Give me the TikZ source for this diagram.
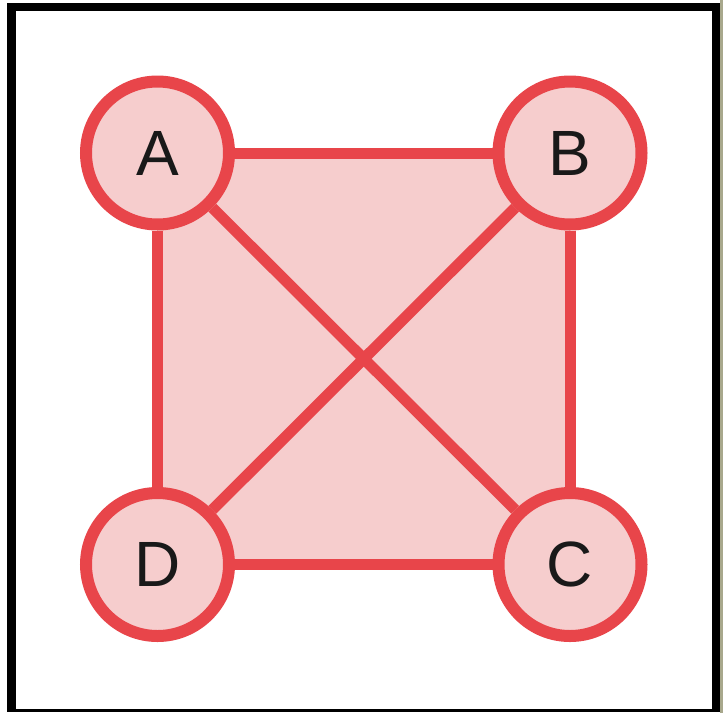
\documentclass[tikz,border=0pt]{standalone}
\usepackage{fontspec}
\setmainfont{Liberation Sans}
\usetikzlibrary{backgrounds}
\definecolor{edgered}{HTML}{E8454A}
\definecolor{pinkfill}{HTML}{F6CDCD}
\definecolor{olive}{HTML}{A8A88C}
\tikzset{
  vertex/.style={circle, draw=edgered, line width=12pt, fill=pinkfill, minimum size=143pt, inner sep=0pt, text=black!90, font=\fontsize{64}{64}\selectfont},
  link/.style={draw=edgered, line width=11pt}
}
\begin{document}
\begin{tikzpicture}[x=1pt,y=-1pt]
\useasboundingbox (0,0) rectangle (723,713);
\begin{scope}[on background layer]
\fill[white] (0,0) rectangle (723,713);
\fill[olive] (720,0) rectangle (723,713);
\fill[black] (7,3) rectangle (720,712);
\fill[white] (16,11) rectangle (712,709);
\end{scope}
\node[vertex] (A) at (157.5,153) {A};
\node[vertex] (B) at (570,153) {B};
\node[vertex] (C) at (570,564.5) {C};
\node[vertex] (D) at (157.5,564.5) {D};
\begin{scope}[on background layer]
\fill[pinkfill] (A.center) -- (B.center) -- (C.center) -- (D.center) -- cycle;
\draw[link] (A) -- (B);
\draw[link] (B) -- (C);
\draw[link] (C) -- (D);
\draw[link] (D) -- (A);
\draw[link] (A) -- (C);
\draw[link] (B) -- (D);
\end{scope}
\end{tikzpicture}
\end{document}
